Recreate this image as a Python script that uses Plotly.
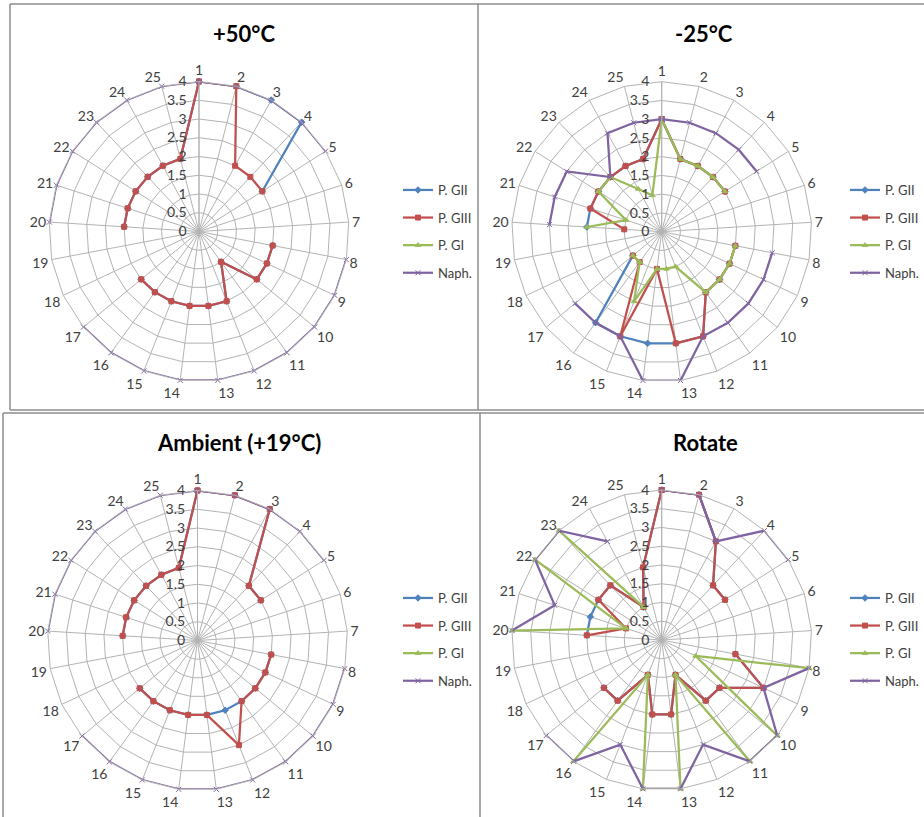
import plotly.graph_objects as go

N = None
categories = ["1", "2", "3", "4", "5", "6", "7", "8", "9", "10", "11", "12", "13",
              "14", "15", "16", "17", "18", "19", "20", "21", "22", "23", "24", "25"]
series_names = ["P. GII", "P. GIII", "P. GI", "Naph."]
panel_titles = ["+50°C", "-25°C", "Ambient (+19°C)", "Rotate"]

# +50°C
p50_gii = [4, 4, 4, 4, 2, N, N, 2, 2, 2, 1, 2, 2, 2, 2, 2, 2, N, N, 2, 2, 2, 2, 2, 2]
p50_giii = [4, 4, 2, 2, 2, N, N, 2, 2, 2, 1, 2, 2, 2, 2, 2, 2, N, N, 2, 2, 2, 2, 2, 2]
p50_gi = [N] * 25
p50_naph = [4, 4, 4, 4, 4, N, N, 4, 4, 4, 4, 4, 4, 4, 4, 4, 4, N, N, 4, 4, 4, 4, 4, 4]

# -25°C
m25_gii = [3, 2, 2, 2, 2, N, N, 2, 2, 2, 2, 3, 3, 3, 3, 3, 1, N, N, 2, 2, 2, 2, 2, 2]
m25_giii = [3, 2, 2, 2, 2, N, N, 2, 2, 2, 2, 3, 3, 1, 3, 1, 1, N, N, 1, 2, 2, 2, 2, 2]
m25_gi = [3, 2, 2, 2, 2, N, N, 2, 2, 2, 2, 1, 1, 1, 2, 1, 1, N, N, 2, 1, 2, 2, 1.3, 1]
m25_naph = [3, 3, 3, 3, 3, N, N, 3, 3, 3, 3, 3, 4, 4, 3, 3, 3, N, N, 3, 3, 3, 2, 3, 3]

# Ambient (+19°C)
amb_gii = [4, 4, 4, 2, 2, N, N, 2, 2, 2, 2, 2, 2, 2, 2, 2, 2, N, N, 2, 2, 2, 2, 2, 2]
amb_giii = [4, 4, 4, 2, 2, N, N, 2, 2, 2, 2, 3, 2, 2, 2, 2, 2, N, N, 2, 2, 2, 2, 2, 2]
amb_gi = [N] * 25
amb_naph = [4, 4, 4, 4, 4, N, N, 4, 4, 4, 4, 4, 4, 4, 4, 4, 4, N, N, 4, 4, 4, 4, 4, 4]

# Rotate
rot_gii = [4, 4, 3, 2, 2, N, N, 2, 3, 2, 2, 1, 2, 2, 1, 2, 2, N, N, 2, 2, 2, 2, 1, 2]
rot_giii = [4, 4, 3, 2, 2, N, N, 2, 3, 2, 2, 1, 2, 2, 1, 2, 2, N, N, 2, 1, 2, 2, 1, 2]
rot_gi = [N, N, N, N, N, N, N, 4, 1, 4, 4, 1, 4, 4, 1, 4, N, N, N, 4, 1, 4, 4, 1, N]
rot_naph = [4, 4, 3, 4, 4, N, N, 4, 3, 4, 4, 3, 4, 4, 3, 4, 4, N, N, 4, 3, 4, 4, 3, N]

panels = [
    [p50_gii, p50_giii, p50_gi, p50_naph],
    [m25_gii, m25_giii, m25_gi, m25_naph],
    [amb_gii, amb_giii, amb_gi, amb_naph],
    [rot_gii, rot_giii, rot_gi, rot_naph],
]

colors = ["#4F81BD", "#C0504D", "#9BBB59", "#8064A2"]
symbols = ["diamond", "square", "triangle-up", "x-thin-open"]
msizes = [5, 5, 5, 5]

W, H = 924, 817
R = 150
centers = [(199, 231.5), (661.7, 231.7), (197.5, 640.5), (661.7, 640)]
# (x, y, xanchor) in pixels
legend_pos = [(398, 175, "left"), (W, 175, "right"), (398, 583, "left"), (W, 583, "right")]
title_pos = [(244, 33), (704, 33), (239, 442), (705, 442)]

FONT = "Lato, Carlito, Calibri, 'Open Sans', sans-serif"
GRID = "#b3b3b3"
TXT = "#404040"

fig = go.Figure()
layout = dict(width=W, height=H, autosize=False,
              margin=dict(l=0, r=0, t=0, b=0, pad=0, autoexpand=False),
              paper_bgcolor="white", plot_bgcolor="white", font=dict(family=FONT, color=TXT))

for p, series in enumerate(panels):
    pname = "polar" if p == 0 else f"polar{p+1}"
    sub = pname
    lname = "legend" if p == 0 else f"legend{p+1}"
    cx, cy = centers[p]
    layout[pname] = dict(
        domain=dict(x=[(cx - R) / W, (cx + R) / W], y=[1 - (cy + R) / H, 1 - (cy - R) / H]),
        bgcolor="white",
        gridshape="linear",
        angularaxis=dict(rotation=90, direction="clockwise", type="category",
                         categoryarray=categories, showline=True, linecolor=GRID, linewidth=1,
                         gridcolor=GRID, ticks="", tickfont=dict(size=14, color=TXT, family=FONT)),
        radialaxis=dict(range=[0, 4], dtick=0.5, angle=90, tickangle=90, showline=True,
                        linecolor=GRID, linewidth=1, gridcolor=GRID,
                        ticks="outside", ticklen=7, tickcolor="rgba(0,0,0,0)",
                        side="counterclockwise",
                        tickfont=dict(size=14, color=TXT, family=FONT)),
    )
    lx, ly, lanchor = legend_pos[p]
    layout[lname] = dict(x=lx / W, y=1 - ly / H, xanchor=lanchor, yanchor="top",
                         bgcolor="rgba(0,0,0,0)", font=dict(size=13, color=TXT, family=FONT),
                         tracegroupgap=7.7, itemwidth=30)
    for s, vals in enumerate(series):
        r = list(vals) + [vals[0]]
        th = categories + [categories[0]]
        fig.add_trace(go.Scatterpolar(
            r=r, theta=th, subplot=sub, name=series_names[s], legend=lname,
            legendgroup=f"{p}-{s}", mode="lines+markers",
            line=dict(color=colors[s], width=2.25),
            marker=dict(symbol=symbols[s], size=msizes[s], color=colors[s],
                        line=dict(color=colors[s], width=1)),
            connectgaps=False, cliponaxis=False,
        ))

annotations = []
for p, t in enumerate(panel_titles):
    tx, ty = title_pos[p]
    annotations.append(dict(text=f"<b>{t}</b>", x=tx / W, y=1 - ty / H, xref="paper", yref="paper",
                            showarrow=False, xanchor="center", yanchor="middle",
                            font=dict(size=22, color="#000000", family=FONT)))
layout["annotations"] = annotations

# panel frames (pixel coordinates, kept within the page)
border = "#8c8c8c"
frame_lines = [
    (10, 4, W, 4), (10, 4, 10, 410), (478, 4, 478, 410), (10, 410, W, 410),
    (3, 413, W, 413), (3, 413, 3, H), (480, 413, 480, H),
]
shapes = []
for (x0, y0, x1, y1) in frame_lines:
    shapes.append(dict(type="line", xref="paper", yref="paper",
                       x0=x0 / W, x1=x1 / W, y0=1 - y0 / H, y1=1 - y1 / H,
                       line=dict(color=border, width=1.5), layer="below"))
layout["shapes"] = shapes

fig.update_layout(**layout)
fig.write_html("out.html")
